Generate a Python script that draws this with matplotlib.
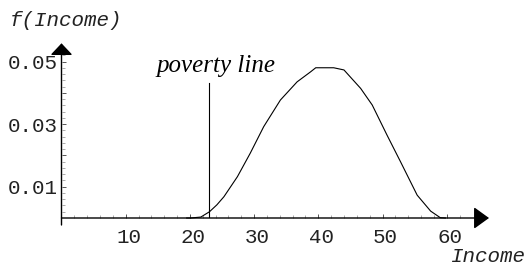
import matplotlib
matplotlib.use("Agg")
import matplotlib.pyplot as plt
from matplotlib.transforms import ScaledTranslation

# Data
income = [19.5, 20.1, 21.7, 23.05, 24.2, 25.3, 27.4, 29.4, 31.5, 34.1, 36.7, 38.8, 39.6,
          42.4, 44.0, 46.6, 48.4, 50.7, 52.8, 55.4, 57.5, 59.0, 59.8]
density = [0.0, 0.0, 0.0003, 0.002, 0.0042, 0.0068, 0.0132, 0.0207, 0.0292, 0.0377, 0.0435,
           0.0467, 0.048, 0.048, 0.0473, 0.0414, 0.0361, 0.0265, 0.018, 0.0073, 0.0022,
           0.0001, 0.0]
poverty_x = 23.05
poverty_top = 0.0431
xticks = [10, 20, 30, 40, 50, 60]
yticks = [0.01, 0.03, 0.05]
ytick_labels = ["0.01", "0.03", "0.05"]

W, H = 526, 267
fig = plt.figure(figsize=(W / 100, H / 100), dpi=100)
left_px, right_px, bot_px, top_px = 61.5, 489, 218, 43.3
ax = fig.add_axes([left_px / W, (H - bot_px) / H, (right_px - left_px) / W, (bot_px - top_px) / H])
xmax = (right_px - left_px) / 6.42
ymax = (bot_px - top_px) / 3130
ax.set_xlim(0, xmax)
ax.set_ylim(0, ymax)
for s in ax.spines.values():
    s.set_visible(False)
ax.patch.set_visible(False)

mono = "Liberation Mono"

# axes with arrows
ax.annotate("", xy=(0, ymax), xytext=(0, -7 / 3130), xycoords="data",
            arrowprops=dict(arrowstyle="-|>,head_length=7.2,head_width=6.8", mutation_scale=1,
                            lw=1.0, color="black", shrinkA=0, shrinkB=0), annotation_clip=False)
ax.annotate("", xy=(xmax, 0), xytext=(0, 0), xycoords="data",
            arrowprops=dict(arrowstyle="-|>,head_length=9.4,head_width=6.8", mutation_scale=1,
                            lw=1.0, color="black", shrinkA=0, shrinkB=0), annotation_clip=False)

# ticks
minor_x = [v for v in range(2, 64, 2) if v % 10]
minor_y = [i * 0.002 for i in range(1, 27) if i % 5]
ax.set_xticks(xticks)
ax.set_xticks(minor_x, minor=True)
ax.set_yticks([0.01, 0.02, 0.03, 0.04, 0.05])
ax.set_yticklabels(["0.01", "", "0.03", "", "0.05"])
ax.set_yticks(minor_y, minor=True)
ax.set_xticklabels([str(v) for v in xticks])
ax.tick_params(axis="both", which="major", direction="in", length=3, width=0.7,
               color="#555555", labelsize=15)
ax.tick_params(axis="both", which="minor", direction="in", length=2, width=0.5,
               color="#888888")
ax.tick_params(axis="x", which="major", pad=7)
ax.tick_params(axis="y", which="major", pad=3)
for lab in ax.get_xticklabels() + ax.get_yticklabels():
    lab.set_fontfamily(mono)
    lab.set_color("#222222")
for lab in ax.get_xticklabels():
    lab.set_transform(lab.get_transform() + ScaledTranslation(3 / 100, 0, fig.dpi_scale_trans))

# curve and poverty line
ax.plot(income, density, color="black", lw=0.8, clip_on=False)
ax.plot([poverty_x, poverty_x], [0, poverty_top], color="black", lw=0.8)
ax.text(24.1, 0.0466, "poverty line", fontfamily="Liberation Serif", style="italic",
        fontsize=18, ha="center", va="baseline")

fig.text(10 / W, 1 - 20 / H, "f(Income)", fontfamily=mono, style="italic", fontsize=15,
         ha="left", va="center", color="#222222")
fig.text(450 / W, 1 - 256 / H, "Income", fontfamily=mono, style="italic", fontsize=15,
         ha="left", va="center", color="#222222")

fig.savefig("out.png", dpi=100)
